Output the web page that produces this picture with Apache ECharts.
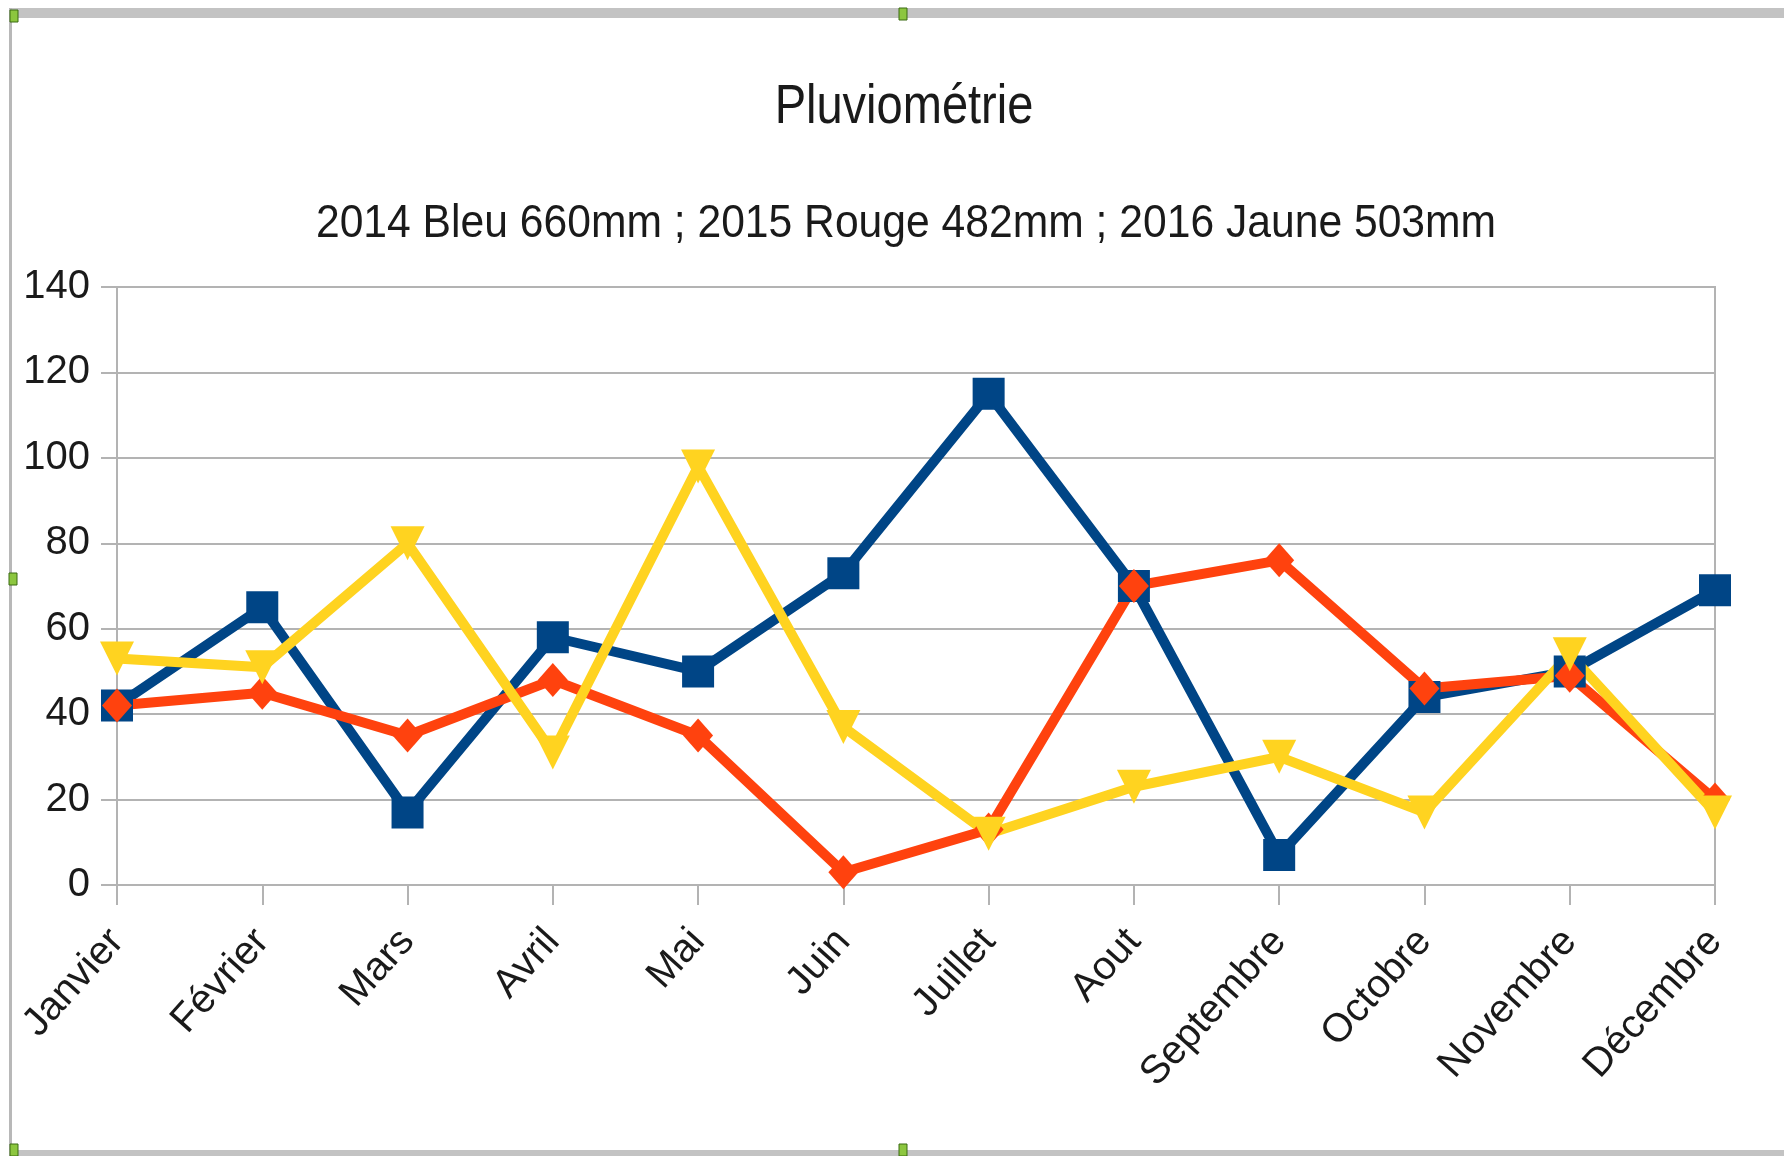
<!DOCTYPE html>
<html>
<head>
<meta charset="utf-8">
<script src="https://cdn.jsdelivr.net/npm/echarts@6/dist/echarts.min.js"></script>
<style>
html,body{margin:0;padding:0;background:#fff;}
#chart{width:1784px;height:1156px;}
</style>
</head>
<body>
<div id="chart"></div>
<script>
const months = ['Janvier','Février','Mars','Avril','Mai','Juin','Juillet','Aout','Septembre','Octobre','Novembre','Décembre'];
const rain2014 = [42, 65, 17, 58, 50, 73, 115, 70, 7, 44, 50, 69];
const rain2015 = [42, 45, 35, 48, 35, 3, 13, 70, 76, 46, 49, 20];
const rain2016 = [53, 51, 80, 31, 98, 37, 12, 23, 30, 17, 54, 17];
const yTicks = {min: 0, max: 140, interval: 20};
const titleText = 'Pluviométrie';
const subtitleText = '2014 Bleu 660mm ; 2015 Rouge 482mm ; 2016 Jaune 503mm';

const FONT = '"Liberation Sans", Arial, sans-serif';
const GRID = '#b3b3b3';
const chart = echarts.init(document.getElementById('chart'), null, {renderer: 'canvas'});

function handle(x, y) {
  return {type: 'rect', shape: {x: x - 4, y: y - 6, width: 8, height: 12},
    style: {fill: '#8cc63f', stroke: '#3a6b12', lineWidth: 1}, z: 100};
}

chart.setOption({
  backgroundColor: '#ffffff',
  animation: false,
  grid: {left: 117, right: 69, top: 287, bottom: 271, show: true, borderColor: GRID, borderWidth: 2, containLabel: false},
  xAxis: {
    type: 'category', data: months, boundaryGap: false,
    axisLine: {lineStyle: {color: GRID, width: 2}},
    axisTick: {show: true, length: 20, lineStyle: {color: GRID, width: 2}},
    splitLine: {show: false},
    axisLabel: {rotate: 48, margin: 50, interval: 0, fontFamily: FONT, fontSize: 40, color: '#1a1a1a'}
  },
  yAxis: {
    type: 'value', min: yTicks.min, max: yTicks.max, interval: yTicks.interval,
    axisLine: {show: true, lineStyle: {color: GRID, width: 2}},
    axisTick: {show: true, length: 16, lineStyle: {color: GRID, width: 2}},
    splitLine: {show: true, lineStyle: {color: GRID, width: 2}},
    axisLabel: {margin: 27, fontFamily: FONT, fontSize: 40, color: '#1a1a1a'}
  },
  series: [
    {name: '2014', type: 'line', data: rain2014, symbol: 'rect', symbolSize: 32,
     lineStyle: {color: '#004586', width: 10}, itemStyle: {color: '#004586'}},
    {name: '2015', type: 'line', data: rain2015, symbol: 'diamond', symbolSize: [30, 34],
     lineStyle: {color: '#ff420e', width: 10}, itemStyle: {color: '#ff420e'}},
    {name: '2016', type: 'line', data: rain2016, symbol: 'triangle', symbolRotate: 180, symbolSize: 34,
     lineStyle: {color: '#ffd320', width: 10}, itemStyle: {color: '#ffd320'}}
  ],
  graphic: [
    {type: 'text', x: 904, y: 108, scaleX: 0.855, z: 50,
     style: {x: 0, y: 0, text: titleText, align: 'center', verticalAlign: 'middle',
             font: 'normal 55px ' + FONT, fill: '#1a1a1a'}},
    {type: 'text', x: 906, y: 224, scaleX: 0.907, z: 50,
     style: {x: 0, y: 0, text: subtitleText, align: 'center', verticalAlign: 'middle',
             font: 'normal 47px ' + FONT, fill: '#1a1a1a'}},
    {type: 'rect', shape: {x: 11, y: 8, width: 1773, height: 10}, style: {fill: '#c3c3c3'}, z: 90},
    {type: 'rect', shape: {x: 9, y: 8, width: 3, height: 1144}, style: {fill: '#b8b8b8'}, z: 90},
    {type: 'rect', shape: {x: 9, y: 1150, width: 1775, height: 6}, style: {fill: '#c3c3c3'}, z: 90},
    handle(14, 16), handle(903, 14), handle(13, 579), handle(14, 1150), handle(903, 1150)
  ]
});
</script>
</body>
</html>
